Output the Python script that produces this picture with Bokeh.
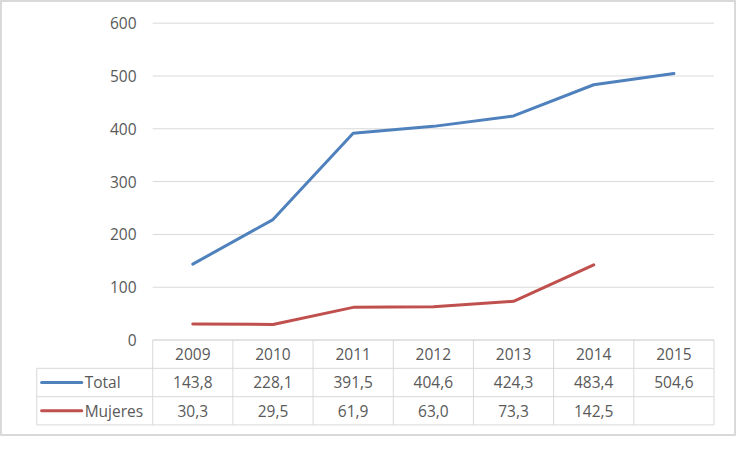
from bokeh.plotting import figure
from bokeh.models import Range1d
from bokeh.core.properties import value
from bokeh.embed import file_html
from bokeh.resources import INLINE

# data
years = ["2009", "2010", "2011", "2012", "2013", "2014", "2015"]
total = [143.8, 228.1, 391.5, 404.6, 424.3, 483.4, 504.6]
mujeres = [30.3, 29.5, 61.9, 63.0, 73.3, 142.5]
y_ticks = [0, 100, 200, 300, 400, 500, 600]
series_names = ["Total", "Mujeres"]
series_colors = ["#4F81BD", "#C0504D"]

FONT = value("Open Sans")
FONT_SIZE = "15.5px"
TEXT_COLOR = "#595959"
LINE_GRAY = "#d9d9d9"

# figure size (fits the window with its 8px page margin)
W, H = 736, 436
# layout measured in reference-chart pixels (752 x 452), scaled onto the figure
REF_W, REF_H = 752, 452
COL_LEFT, COL_W = 155.5, 81.93
Y0_PX, PX_PER_UNIT = 352, 0.5475
TABLE_LEFT = 37
ROW_EDGES = [352, 381.3, 410.7, 440]


def fmt(v):
    return f"{v:.1f}".replace(".", ",")


x_range = Range1d(-0.5 - COL_LEFT / COL_W, -0.5 + (REF_W - COL_LEFT) / COL_W)
y_range = Range1d(-(REF_H - Y0_PX) / PX_PER_UNIT, Y0_PX / PX_PER_UNIT)

p = figure(
    width=W,
    height=H,
    x_range=x_range,
    y_range=y_range,
    x_axis_location=None,
    y_axis_location=None,
    tools="",
    toolbar_location=None,
    output_backend="svg",
    min_border=0,
    background_fill_color="white",
    border_fill_color="white",
)
p.extra_x_ranges = {"px": Range1d(0, REF_W)}
p.extra_y_ranges = {"px": Range1d(REF_H, 0)}
p.grid.visible = False
p.outline_line_color = LINE_GRAY
p.outline_line_width = 3

# horizontal gridlines and value labels
n_cols = len(years)
p.segment(x0=[-0.5] * len(y_ticks), x1=[n_cols - 0.5] * len(y_ticks), y0=y_ticks, y1=y_ticks,
          line_color=LINE_GRAY, line_width=1)
p.text(x=[139] * len(y_ticks), y=y_ticks, text=[str(t) for t in y_ticks],
       x_range_name="px", text_align="right", text_baseline="middle",
       text_font=FONT, text_font_size=FONT_SIZE, text_color=TEXT_COLOR)

# series lines
idx = list(range(n_cols))
p.line(idx, total, line_color=series_colors[0], line_width=3, line_join="round", line_cap="round")
p.line(idx[:len(mujeres)], mujeres, line_color=series_colors[1], line_width=3,
       line_join="round", line_cap="round")

# data table below the plot
col_edges = [COL_LEFT + COL_W * k for k in range(n_cols + 1)]
right = col_edges[-1]
hx0 = [col_edges[0]] + [TABLE_LEFT] * 3
hx1 = [right] * 4
p.segment(x0=hx0, x1=hx1, y0=ROW_EDGES, y1=ROW_EDGES, x_range_name="px", y_range_name="px",
          line_color=LINE_GRAY, line_width=1)
vx = col_edges + [TABLE_LEFT]
vy0 = [ROW_EDGES[0]] * len(col_edges) + [ROW_EDGES[1]]
vy1 = [ROW_EDGES[-1]] * len(vx)
p.segment(x0=vx, x1=vx, y0=vy0, y1=vy1, x_range_name="px", y_range_name="px",
          line_color=LINE_GRAY, line_width=1)

centers = [(a + b) / 2 for a, b in zip(col_edges[:-1], col_edges[1:])]
row_mid = [(a + b) / 2 for a, b in zip(ROW_EDGES[:-1], ROW_EDGES[1:])]
cells = [years,
         [fmt(v) for v in total],
         [fmt(v) for v in mujeres] + [""] * (n_cols - len(mujeres))]
for r, row in enumerate(cells):
    p.text(x=centers, y=[row_mid[r]] * n_cols, text=row,
           x_range_name="px", y_range_name="px", text_align="center", text_baseline="middle",
           text_font=FONT, text_font_size=FONT_SIZE, text_color=TEXT_COLOR)

# legend keys in the table
for k, (name, color) in enumerate(zip(series_names, series_colors)):
    ym = row_mid[k + 1]
    p.line([42, 83], [ym, ym], x_range_name="px", y_range_name="px",
           line_color=color, line_width=3, line_cap="round")
    p.text(x=[86], y=[ym], text=[name], x_range_name="px", y_range_name="px",
           text_align="left", text_baseline="middle",
           text_font=FONT, text_font_size=FONT_SIZE, text_color=TEXT_COLOR)

open("out.html", "w").write(file_html(p, INLINE))
